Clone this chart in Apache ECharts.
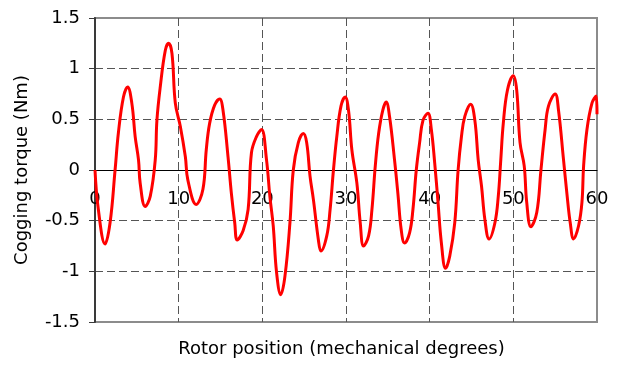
<!DOCTYPE html>
<html>
<head>
<meta charset="utf-8">
<script src="https://cdn.jsdelivr.net/npm/echarts@6/dist/echarts.min.js"></script>
<style>
  html, body { margin: 0; padding: 0; background: #fff; }
  #chart { width: 618px; height: 365px; }
</style>
</head>
<body>
<div id="chart"></div>
<script>
// rotor position (deg)
const positions = [
  0, 0.4, 1.2, 1.8, 2.4, 2.8, 3.4, 3.9, 4.4, 4.8, 5.2, 5.4, 6.0, 6.6, 7.2, 7.4, 7.8, 8.4, 8.8, 9.2,
  9.6, 10.2, 10.8, 11.1, 12.1, 12.9, 13.3, 13.7, 14.3, 14.9, 15.3, 15.9, 16.3, 16.7, 17.0, 17.7, 18.3, 18.7, 19.3, 19.9,
  20.5, 20.9, 21.3, 21.7, 22.2, 22.7, 23.3, 23.7, 24.3, 24.9, 25.3, 25.7, 26.1, 26.7, 27.0, 27.7, 28.1, 28.5, 28.9, 29.4,
  29.9, 30.3, 30.7, 31.3, 31.7, 32.1, 32.7, 33.1, 33.5, 33.9, 34.4, 34.8, 35.2, 35.8, 36.2, 36.6, 37.0, 37.6, 38.0, 38.4,
  38.8, 39.2, 39.8, 40.2, 40.6, 41.0, 41.4, 41.9, 42.4, 43.0, 43.4, 43.8, 44.2, 44.9, 45.4, 45.8, 46.2, 46.6, 47.1, 47.8,
  48.2, 48.5, 48.8, 49.3, 50.0, 50.4, 50.8, 51.3, 51.6, 52.1, 52.8, 53.3, 53.8, 54.2, 55.0, 55.4, 56.0, 56.4, 56.8, 57.2,
  57.8, 58.2, 58.4, 58.8, 59.4, 59.9, 60.0
]
// cogging torque (Nm)
const torque = [
  0, -0.39, -0.73, -0.52, 0, 0.37, 0.72, 0.82, 0.66, 0.33, 0.10, -0.13, -0.36, -0.26, 0.10, 0.49, 0.82, 1.18, 1.25, 1.15,
  0.66, 0.43, 0.13, -0.10, -0.34, -0.19, 0.20, 0.46, 0.64, 0.70, 0.59, 0.13, -0.23, -0.52, -0.69, -0.60, -0.39, 0.17, 0.33, 0.40,
  0.10, -0.26, -0.55, -1.01, -1.23, -1.05, -0.52, 0, 0.27, 0.36, 0.27, -0.06, -0.29, -0.69, -0.80, -0.65, -0.39, 0, 0.33, 0.63,
  0.72, 0.59, 0.20, -0.13, -0.52, -0.75, -0.65, -0.39, 0.04, 0.36, 0.59, 0.67, 0.53, 0.10, -0.23, -0.59, -0.72, -0.62, -0.39, 0,
  0.27, 0.49, 0.56, 0.40, 0.07, -0.32, -0.72, -0.97, -0.85, -0.52, 0, 0.33, 0.53, 0.65, 0.49, 0.10, -0.16, -0.49, -0.68, -0.52,
  -0.26, 0.10, 0.46, 0.79, 0.93, 0.79, 0.27, 0.04, -0.32, -0.56, -0.42, 0, 0.40, 0.63, 0.75, 0.59, 0.10, -0.23, -0.52, -0.68,
  -0.55, -0.32, 0.04, 0.40, 0.66, 0.73, 0.55
]

const xTitle = 'Rotor position (mechanical degrees)'
const yTitle = 'Cogging torque (Nm)'

const font = '"DejaVu Sans", sans-serif'
const dashed = { type: [8, 4], color: '#555', width: 1 }

const chart = echarts.init(document.getElementById('chart'))

// plot area 18..322 px, zero sits in the middle -> lift x axis by half the height
const plotTop = 18
const plotBottom = 43
const plotHeight = 365 - plotTop - plotBottom

const option = {
  animation: false,
  grid: {
    left: 95,
    right: 21,
    top: plotTop,
    bottom: plotBottom,
    outerBoundsMode: 'none',
    show: true,
    borderColor: '#8c8c8c',
    borderWidth: 2,
    backgroundColor: 'transparent',
  },
  xAxis: {
    type: 'value',
    min: 0,
    max: 60,
    interval: 10,
    offset: -plotHeight / 2,
    axisLine: { show: true, onZero: false, lineStyle: { color: '#000', width: 1 } },
    axisTick: { show: false },
    axisLabel: { margin: 20, fontSize: 18, color: '#000', fontFamily: font },
    splitLine: { show: true, showMinLine: false, showMaxLine: false, lineStyle: dashed },
    name: xTitle,
    nameLocation: 'middle',
    nameGap: 170,
    nameTextStyle: { fontSize: 18, color: '#000', fontFamily: font, padding: [0, 9, 0, 0] },
  },
  yAxis: {
    type: 'value',
    min: -1.5,
    max: 1.5,
    interval: 0.5,
    axisLine: { show: true, onZero: false, lineStyle: { color: '#3a3a3a', width: 2 } },
    axisTick: { show: true, inside: false, length: 6, lineStyle: { color: '#3a3a3a', width: 1 } },
    axisLabel: { margin: 15, fontSize: 18, color: '#000', fontFamily: font },
    splitLine: { show: true, showMinLine: false, showMaxLine: false, lineStyle: dashed },
    name: yTitle,
    nameLocation: 'middle',
    nameGap: 64,
    nameTextStyle: { fontSize: 18, color: '#000', fontFamily: font },
  },
  series: [
    {
      type: 'line',
      data: positions.map((p, i) => [p, torque[i]]),
      smooth: 0.4,
      showSymbol: false,
      lineStyle: { color: '#ff0000', width: 3 },
    },
  ],
}

chart.setOption(option)
</script>
</body>
</html>
